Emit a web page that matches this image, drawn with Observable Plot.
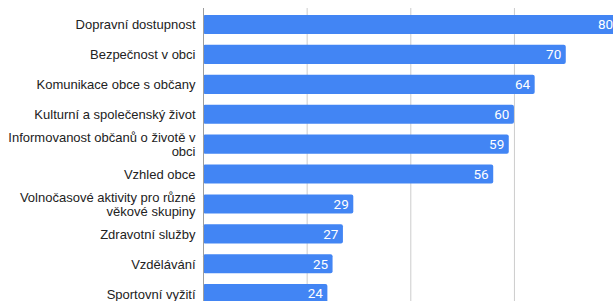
<!DOCTYPE html>
<html>
<head>
<meta charset="utf-8">
<script src="https://cdn.jsdelivr.net/npm/d3@7"></script>
<script src="https://cdn.jsdelivr.net/npm/@observablehq/plot@0.6"></script>
<style>
  html, body { margin: 0; padding: 0; background: #fff; overflow: hidden; }
  #chart svg { display: block; }
</style>
</head>
<body>
<div id="chart"></div>
<script>
const categories = [
  "Dopravní dostupnost",
  "Bezpečnost v obci",
  "Komunikace obce s občany",
  "Kulturní a společenský život",
  "Informovanost občanů o životě v obci",
  "Vzhled obce",
  "Volnočasové aktivity pro různé věkové skupiny",
  "Zdravotní služby",
  "Vzdělávání",
  "Sportovní vyžití"
];
const tickLabels = [
  "Dopravní dostupnost",
  "Bezpečnost v obci",
  "Komunikace obce s občany",
  "Kulturní a společenský život",
  "Informovanost občanů o životě v\nobci",
  "Vzhled obce",
  "Volnočasové aktivity pro různé\nvěkové skupiny",
  "Zdravotní služby",
  "Vzdělávání",
  "Sportovní vyžití"
];
const values = [80, 70, 64, 60, 59, 56, 29, 27, 25, 24];
const gridTicks = [20, 40, 60, 80];

const data = categories.map((c, i) => ({category: c, value: values[i]}));
const labelOf = new Map(categories.map((c, i) => [c, tickLabels[i]]));

const plot = Plot.plot({
  width: 613,
  height: 320,
  marginLeft: 203,
  marginRight: 0,
  marginTop: 8,
  marginBottom: 0,
  style: {fontFamily: "'Liberation Sans', Arial, sans-serif", fontSize: "13px", background: "#fff"},
  x: {domain: [0, 80], range: [203, 617.6], axis: null},
  y: {domain: categories, range: [4.2, 314], padding: 0.36, round: false, label: null, axis: null},
  marks: [
    Plot.ruleX(gridTicks, {stroke: "#cccccc", strokeWidth: 1}),
    Plot.barX(data, {x: "value", y: "category", fill: "#4285f4", rx: 2}),
    Plot.ruleX([0], {stroke: "#9e9e9e", strokeWidth: 1}),
    Plot.text(data, {x: "value", y: "category", text: d => String(d.value), textAnchor: "end", dx: -5, fill: "#ffffff", fontFamily: "Roboto, sans-serif", fontSize: 13.5}),
    Plot.axisY({tickSize: 0, tickPadding: 8, tickFormat: d => labelOf.get(d), fill: "#222", fontSize: 13, lineHeight: 1.05})
  ]
});
document.getElementById("chart").appendChild(plot);
</script>
</body>
</html>
